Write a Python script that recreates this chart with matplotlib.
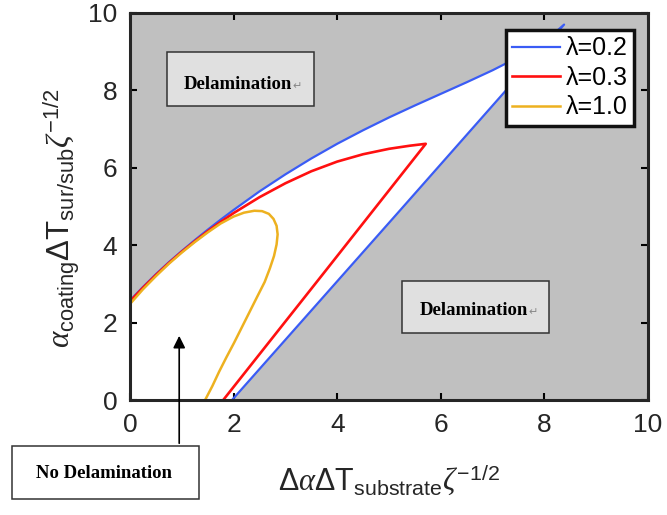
import matplotlib
matplotlib.use("Agg")
import numpy as np
import matplotlib.pyplot as plt
from matplotlib.patches import Rectangle, Polygon

plt.rcParams['font.family'] = ['Liberation Sans', 'DejaVu Sans']
plt.rcParams['mathtext.fontset'] = 'custom'
plt.rcParams['mathtext.rm'] = 'Liberation Sans'
plt.rcParams['mathtext.it'] = 'Liberation Serif:italic'
plt.rcParams['mathtext.bf'] = 'Liberation Sans:bold'

# stability boundaries, upper branch then lower branch for each lambda
blue_up_x = [0, 0.25, 0.5, 0.75, 1.0, 1.25, 1.5, 1.75, 2.0, 2.5, 3.0, 3.5, 4.0, 4.5,
             5.0, 5.5, 6.0, 6.5, 7.0, 7.5, 8.0, 8.38]
blue_up_y = [2.57, 2.92, 3.25, 3.56, 3.85, 4.13, 4.40, 4.66, 4.91, 5.39, 5.83, 6.24, 6.62, 6.97,
             7.30, 7.61, 7.91, 8.21, 8.52, 8.86, 9.25, 9.70]
blue_lo_x = [8.38, 5.2, 1.97]
blue_lo_y = [9.70, 4.88, 0.0]

red_up_x = [0, 0.25, 0.5, 0.75, 1.0, 1.25, 1.5, 1.75, 2.0, 2.5, 3.0, 3.5, 4.0, 4.5, 5.0, 5.4, 5.71]
red_up_y = [2.55, 2.90, 3.23, 3.54, 3.83, 4.10, 4.36, 4.60, 4.83, 5.24, 5.60, 5.91, 6.16, 6.35,
            6.49, 6.57, 6.62]
red_lo_x = [5.71, 3.77, 1.80]
red_lo_y = [6.62, 3.33, 0.0]

yel_x = [0, 0.25, 0.5, 0.75, 1.0, 1.25, 1.5, 1.75, 2.0, 2.2, 2.4, 2.55, 2.68, 2.77, 2.83, 2.85,
         2.83, 2.78, 2.7, 2.6, 2.46, 2.31, 2.16, 2.01, 1.86, 1.72, 1.59, 1.45]
yel_y = [2.48, 2.86, 3.20, 3.52, 3.81, 4.08, 4.33, 4.56, 4.74, 4.84, 4.89, 4.88, 4.81, 4.68, 4.50,
         4.28, 4.02, 3.72, 3.40, 3.05, 2.68, 2.28, 1.88, 1.48, 1.10, 0.73, 0.36, 0.0]

labels = ['λ=0.2', 'λ=0.3', 'λ=1.0']
ticks = [0, 2, 4, 6, 8, 10]

fig = plt.figure(figsize=(6.67, 5.15), dpi=100)
ax = fig.add_axes([0.1949, 0.2233, 0.7766, 0.7515])
ax.set_facecolor('#c0c0c0')

# safe region inside the lambda=0.2 boundary
safe = list(zip(blue_up_x, blue_up_y)) + list(zip(blue_lo_x, blue_lo_y)) + [(0, 0)]
ax.add_patch(Polygon(safe, closed=True, facecolor='white', edgecolor='none', zorder=1))

ax.plot(blue_up_x + blue_lo_x, blue_up_y + blue_lo_y, color='#3a5cf5', lw=1.6, zorder=3, label=labels[0])
ax.plot(red_up_x + red_lo_x, red_up_y + red_lo_y, color='#ff1010', lw=1.9, zorder=4, label=labels[1])
ax.plot(yel_x, yel_y, color='#edb120', lw=1.8, zorder=5, label=labels[2])

ax.set_xlim(0, 10)
ax.set_ylim(0, 10)
ax.set_xticks(ticks)
ax.set_yticks(ticks)
ax.tick_params(direction='in', top=True, right=True, length=5, width=1.5,
               labelsize=19, labelcolor='#262626', pad=9)
for s in ax.spines.values():
    s.set_linewidth(2.2)
    s.set_color('#262626')
    s.set_zorder(6)

ax.set_xlabel(r'$\Delta\alpha\Delta\mathrm{T}_{\mathrm{substrate}}\zeta^{\mathrm{-1/2}}$',
              fontsize=22, color='#262626')
ax.xaxis.set_label_coords(0.5, -0.16)
ax.set_ylabel(r'$\alpha_{\mathrm{coating}}\Delta\mathrm{T}_{\mathrm{sur/sub}}\zeta^{\mathrm{-1/2}}$',
              fontsize=22.5, color='#262626')
ax.yaxis.set_label_coords(-0.093, 0.47)

leg = ax.legend(loc='upper right', bbox_to_anchor=(0.973, 0.956), borderaxespad=0,
                fontsize=18, handlelength=1.9, handletextpad=0.25, labelspacing=0.22,
                borderpad=0.25, fancybox=False, framealpha=1, edgecolor='#111111')
leg.get_frame().set_linewidth(2.5)
leg.set_zorder(7)


def label_box(x0, y0, w, h, tx, ty, text, face, trans):
    ax.add_patch(Rectangle((x0, y0), w, h, transform=trans, facecolor=face,
                           edgecolor='#333333', lw=1.1, zorder=8, clip_on=False))
    t = ax.text(tx, ty, text, transform=trans, fontsize=13.5, fontweight='bold',
                family='Liberation Serif', ha='left', va='center', zorder=9)
    ax.annotate('\u21b5', xy=(1, 0.1), xycoords=t, fontsize=8, color='#888888',
                family='DejaVu Sans', va='bottom', ha='left', zorder=9)


label_box(0.071, 0.760, 0.284, 0.139, 0.104, 0.815, 'Delamination', '#e0e0e0', ax.transAxes)
label_box(0.525, 0.173, 0.284, 0.134, 0.560, 0.232, 'Delamination', '#e0e0e0', ax.transAxes)

# arrow from the lower label into the safe region
ax.annotate('', xy=(0.95, 1.73), xytext=(0.95, -1.19), xycoords='data', textcoords='data',
            arrowprops=dict(arrowstyle='-|>', lw=1.2, color='black', mutation_scale=18),
            annotation_clip=False, zorder=9)

fig.patches.append(Rectangle((0.018, 0.031), 0.280, 0.103, transform=fig.transFigure,
                             facecolor='white', edgecolor='#333333', lw=1.1, zorder=10))
nt = fig.text(0.054, 0.080, 'No Delamination', fontsize=13.5, fontweight='bold',
              family='Liberation Serif', ha='left', va='center', zorder=11)
ax.annotate('\u21b5', xy=(1, 0.1), xycoords=nt, fontsize=8, color='#888888',
            family='DejaVu Sans', va='bottom', ha='left', zorder=11, annotation_clip=False)

fig.savefig('out.png', dpi=100, facecolor='white')
